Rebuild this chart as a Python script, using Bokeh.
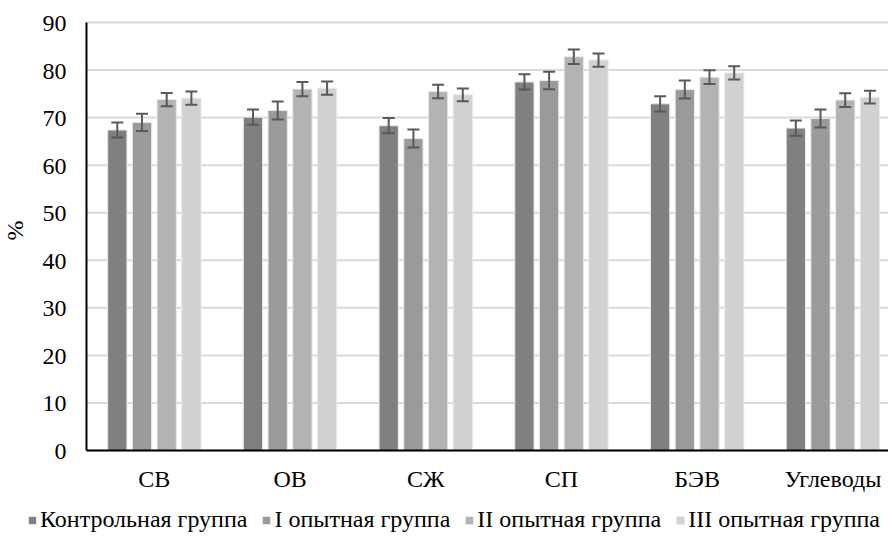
import numpy as np
from bokeh.plotting import figure
from bokeh.models import (ColumnDataSource, Range1d, Whisker, TeeHead, Legend, LegendItem)
from bokeh.core.properties import value
from bokeh.embed import file_html
from bokeh.resources import INLINE

categories = ["СВ", "ОВ", "СЖ", "СП", "БЭВ", "Углеводы"]
series_names = ["Контрольная группа", "I опытная группа", "II опытная группа", "III опытная группа"]
control = [67.4, 70.1, 68.3, 77.5, 72.9, 67.8]
group1 = [69.0, 71.5, 65.6, 77.8, 75.9, 69.8]
group2 = [73.8, 76.0, 75.5, 82.8, 78.5, 73.7]
group3 = [74.1, 76.2, 74.8, 82.1, 79.4, 74.3]
err_c = [1.6, 1.6, 1.6, 1.6, 1.6, 1.6]
err_1 = [1.8, 1.9, 1.9, 1.85, 1.9, 1.9]
err_2 = [1.4, 1.5, 1.4, 1.5, 1.45, 1.45]
err_3 = [1.4, 1.4, 1.35, 1.4, 1.4, 1.35]
y_ticks = [0, 10, 20, 30, 40, 50, 60, 70, 80, 90]
y_title = "%"

colors = ["#808080", "#9a9a9a", "#b3b3b3", "#d1d1d1"]
FONT = value("Liberation Serif")
FS = "24px"

W, H = 888, 544
X_START, X_END = -0.6337, 5.910
Y_START, Y_END = -19.77, 94.63

p = figure(width=W, height=H, output_backend="svg", toolbar_location=None,
           x_range=Range1d(X_START, X_END), y_range=Range1d(Y_START, Y_END),
           x_axis_location=None, y_axis_location=None, min_border=0)
p.outline_line_color = None
p.grid.visible = False

yt = np.array(y_ticks, dtype=float)
# horizontal gridlines
p.segment(x0=np.zeros_like(yt), y0=yt, x1=np.full_like(yt, X_END), y1=yt,
          line_color="#d9d9d9", line_width=2)

centers = np.arange(len(categories)) + 0.5
pitch = 0.182
bw = 0.142
offsets = [-1.5 * pitch, -0.5 * pitch, 0.5 * pitch, 1.5 * pitch]
all_vals = [control, group1, group2, group3]
all_errs = [err_c, err_1, err_2, err_3]

renderers = []
sources = []
for vals, errs, off, col in zip(all_vals, all_errs, offsets, colors):
    v = np.array(vals)
    e = np.array(errs)
    src = ColumnDataSource(dict(x=centers + off, top=v, lo=v - e, hi=v + e))
    sources.append(src)
    r = p.vbar(x="x", top="top", bottom=0, width=bw, source=src,
               fill_color=col, line_color="#e9e9e9", line_width=1)
    renderers.append(r)

# axis lines
p.segment(x0=[0], y0=[yt[0]], x1=[0], y1=[yt[-1]], line_color="black", line_width=2)
p.segment(x0=[0], y0=[yt[0]], x1=[X_END], y1=[yt[0]], line_color="black", line_width=2)

for src in sources:
    w = Whisker(base="x", upper="hi", lower="lo", source=src, dimension="height",
                line_color="#595959", line_width=2, level="annotation",
                upper_head=TeeHead(size=12, line_color="#595959", line_width=2),
                lower_head=TeeHead(size=12, line_color="#595959", line_width=2))
    p.add_layout(w)

# y tick labels
p.text(x=np.zeros_like(yt), y=yt, text=[str(t) for t in y_ticks],
       x_offset=-20, y_offset=1, text_align="right", text_baseline="middle",
       text_font=FONT, text_font_size=FS, text_color="black")
# x category labels
p.text(x=centers, y=np.zeros_like(centers), text=categories,
       y_offset=29, text_align="center", text_baseline="middle",
       text_font=FONT, text_font_size=FS, text_color="black")
# y axis title
p.text(x=[0], y=[(yt[0] + yt[-1]) / 2], text=[y_title], angle=np.pi / 2,
       x_offset=-71, y_offset=-6, text_align="center", text_baseline="middle",
       text_font=FONT, text_font_size=FS, text_color="black")

legend = Legend(items=[LegendItem(label=n, renderers=[r]) for n, r in zip(series_names, renderers)],
                orientation="horizontal", location=(27, 11),
                label_text_font="Liberation Serif", label_text_font_size=FS, label_text_color="black",
                glyph_width=10, glyph_height=10, label_standoff=3, spacing=14,
                padding=0, margin=0, border_line_color=None, background_fill_alpha=0)
p.add_layout(legend, "center")

open("out.html", "w").write(file_html(p, INLINE))
